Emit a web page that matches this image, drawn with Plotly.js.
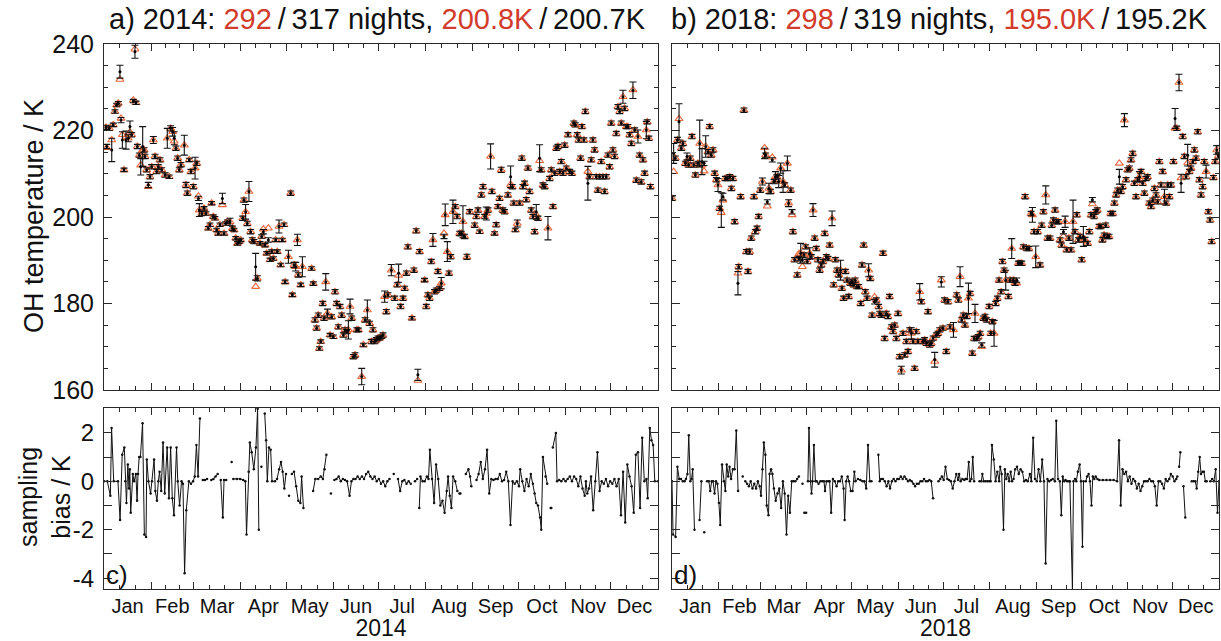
<!DOCTYPE html>
<html><head><meta charset="utf-8">
<script src="https://cdn.plot.ly/plotly-3.0.1.min.js"></script>
<style>html,body{margin:0;padding:0;background:#fff}#chart{width:1221px;height:641px}</style>
</head><body><div id="chart"></div>
<script>
// ---------------- DATA ----------------
const monthNames = ['Jan','Feb','Mar','Apr','May','Jun','Jul','Aug','Sep','Oct','Nov','Dec'];
const monthLen = [31,28,31,30,31,30,31,31,30,31,30,31];

// 2014: night (day of year), OH temperature (K), error (K), sampled value (triangles)
const day2014 = [
1.3,1.8,3.5,5.1,6.1,7.2,8.3,9.4,10.5,11.2,12.1,13.2,14.5,16.0,17.1,18.2,19.3,20.4,21.1,22.0,
23.3,24.2,25.5,26.4,27.0,28.1,29.2,30.3,31.4,32.5,33.6,34.7,35.8,36.9,38.0,40.2,41.7,43.0,43.9,45.2,
46.3,47.4,48.5,49.6,50.7,52.9,54.0,54.9,56.2,57.3,58.9,60.0,61.1,62.2,62.8,64.4,65.9,67.2,68.7,69.8,
70.9,72.0,73.1,74.2,75.3,76.4,78.0,79.1,80.2,81.3,83.0,84.6,85.7,86.8,87.9,89.0,90.0,91.4,92.2,93.3,
94.4,95.5,96.6,97.7,98.8,99.9,101.0,102.8,103.9,105.0,106.1,107.2,108.3,109.4,110.5,111.6,113.1,114.2,115.3,116.4,
117.5,118.6,119.3,121.5,123.0,124.1,125.2,126.3,127.4,128.0,129.6,130.7,136.8,137.9,139.0,140.1,141.2,141.9,142.8,144.1,
145.0,146.1,147.2,148.9,150.0,151.1,152.2,153.3,154.4,155.5,156.6,157.7,158.8,159.9,161.0,162.1,163.2,164.3,165.4,166.5,
167.6,169.8,170.9,172.0,173.5,
175.0,176.1,177.2,178.3,179.4,180.5,181.6,182.7,183.8,184.9,186.0,187.1,189.3,191.5,193.2,194.1,195.4,197.0,198.1,199.2,
200.2,202.9,204.2,205.7,206.8,207.9,211.2,212.3,213.4,214.5,215.6,216.7,217.8,218.9,220.0,221.1,222.2,224.0,224.8,226.2,
227.3,228.4,229.9,231.4,232.7,234.3,235.4,236.5,237.6,239.1,240.9,244.2,245.3,246.4,247.5,248.6,249.7,250.8,251.9,253.0,
254.7,255.6,257.3,258.4,259.5,260.6,261.7,262.8,263.9,266.1,267.9,269.0,269.9,271.0,272.3,273.8,275.3,276.0,277.1,278.2,
279.3,280.4,281.5,282.6,283.7,284.8,285.9,287.0,288.1,289.2,290.3,292.5,293.6,294.7,295.8,296.9,298.0,299.1,300.2,301.3,
302.4,303.5,304.6,305.7,306.8,308.3,309.6,310.5,311.8,312.7,314.0,314.9,316.2,317.1,318.8,319.9,321.0,322.1,323.2,324.3,
325.4,326.5,327.6,328.7,329.8,330.9,332.0,333.1,334.2,335.3,336.4,337.5,338.6,339.7,340.8,341.9,343.0,344.1,345.2,346.3,
347.4,348.5,349.6,350.7,351.8,352.9,354.0,355.1,356.2,357.3,357.9,359.0,360.0];
const temp2014 = [
220.7,216.3,220.5,215.5,221.3,224.4,225.9,226.3,233.6,222.4,217.8,210.9,217.8,218.2,220.9,219.0,226.8,238.2,226.4,216.3,
214.3,211.6,216.3,215.5,214.0,210.9,207.4,209.3,211.6,217.8,214.0,210.5,211.6,213.2,210.9,209.7,218.2,209.3,220.5,219.7,
218.2,215.9,213.6,210.9,212.1,216.6,207.4,205.5,213.2,210.5,207.0,211.3,212.4,204.3,201.6,200.8,202.0,200.8,197.4,198.2,
203.2,200.1,199.7,197.0,196.2,198.2,204.3,196.2,198.5,198.9,198.9,197.4,197.0,195.1,193.9,194.3,194.7,199.7,203.9,201.2,
198.5,205.9,196.6,194.7,194.3,188.5,185.8,193.9,195.5,196.6,193.5,191.6,194.7,190.1,192.0,190.4,194.7,192.0,197.8,188.9,
194.7,198.2,185.0,190.8,205.5,182.0,188.9,188.5,194.7,186.6,184.3,188.5,188.1,184.6,176.2,174.3,177.3,169.6,171.2,180.0,
176.6,185.0,177.7,172.7,176.9,172.3,182.7,180.0,174.6,179.3,177.3,172.7,173.9,173.5,173.9,179.3,176.6,167.7,168.1,173.9,
173.9,163.1,170.4,176.2,178.5,
175.4,171.2,173.9,171.2,171.6,172.0,172.0,172.3,172.7,181.6,178.1,182.0,187.7,181.2,184.3,187.0,179.3,181.2,183.5,187.0,
193.1,176.6,187.7,196.8,163.5,192.0,185.4,179.3,182.0,181.2,189.7,194.7,182.7,183.1,187.4,183.5,184.7,195.5,200.5,192.0,
187.0,190.8,201.2,202.4,200.1,196.2,196.2,198.9,195.5,190.8,201.2,198.1,200.1,201.6,196.6,205.1,207.0,200.1,200.8,201.6,
214.0,205.9,196.2,198.2,202.4,204.3,210.9,201.6,201.2,205.1,209.3,207.0,203.2,197.0,198.5,203.2,213.6,207.0,207.8,204.0,
211.3,205.9,201.6,200.1,196.6,201.2,199.7,213.6,210.9,207.4,207.0,197.4,208.9,210.9,202.4,210.1,215.9,216.3,210.5,212.8,
210.1,216.6,211.3,219.0,210.5,210.1,221.7,221.3,219.0,217.8,213.6,220.9,217.8,224.4,207.8,209.3,213.2,217.8,215.5,209.3,
206.2,209.3,212.8,209.3,205.9,209.3,214.3,211.6,221.7,215.5,214.0,219.3,225.5,224.4,221.7,227.8,225.1,220.9,220.9,219.0,
217.0,229.3,220.1,208.5,218.6,214.3,208.1,213.2,210.1,220.1,222.0,218.2,207.0];
const err2014 = [
.5,.5,.5,2.7,.4,.4,.4,.4,1.5,.6,1.9,.4,2.1,.8,1.3,.5,.4,1.5,.4,.5,
.5,1.9,4.6,.5,.5,.5,.6,.5,.5,.8,.5,.5,.5,.5,.5,.5,2.3,.4,.6,1.0,
1.5,.5,.5,.5,.5,2.3,.6,.5,.4,.5,.5,2.5,.5,.5,1.5,.5,.4,.4,.4,.4,
.4,.4,.4,.4,.4,.4,1.2,.4,.4,.4,.8,.5,.4,.4,.4,.4,.4,.5,.5,1.7,
.5,2.3,.5,.5,.5,3.1,.6,.4,.4,.5,.4,.4,.5,.4,.4,.4,.4,.4,1.5,.4,
.4,.4,.4,1.5,.5,.4,.6,1.0,1.3,.5,.4,2.3,.4,.4,.5,.5,.5,.4,.4,.5,
.5,1.9,1.0,.4,.5,.4,.5,.5,.5,.5,.5,.5,.5,.5,2.1,1.7,.5,.5,.5,.5,
.4,1.9,.4,.5,2.3,
.5,.5,.5,.5,.5,.5,.4,.4,.5,1.3,.5,.5,1.3,.5,.5,2.1,.5,.5,.5,.5,
.5,.4,.5,.5,1.3,.5,.4,.5,.5,.5,.5,1.5,.5,.5,.5,.5,1.3,.5,2.5,2.3,
.5,.5,2.7,.5,.5,.5,.5,3.7,.5,.6,.5,.5,.5,.5,.4,.5,.5,.5,1.5,.5,
2.9,.5,.4,.5,.5,.5,.6,.5,.5,.5,2.5,.5,.5,.4,.8,.5,.5,.5,.5,.5,
.5,.5,.5,.5,.5,1.7,.5,3.1,.5,.5,.5,2.7,.5,.5,.5,.5,.5,.5,.5,.5,
.5,.5,.5,.5,.5,.5,.5,.5,.5,.5,.5,.5,.5,.5,3.9,.5,.5,.5,.5,.5,
.5,.5,.5,.5,.5,.5,.5,.5,.5,.5,.5,.5,.5,.5,.5,1.5,.5,.5,.5,.5,
.5,1.9,.5,.5,1.5,.5,.5,.5,.5,2.0,.5,.5,.5];
const samp2014 = [
220.7,216.0,220.5,217.8,221.3,224.4,225.9,226.3,231.8,222.8,219.0,210.9,218.5,218.2,219.6,219.0,227.0,238.8,226.4,216.3,
214.3,212.0,215.5,215.5,214.0,210.9,207.0,209.3,211.6,217.8,214.0,210.5,211.6,213.2,210.9,209.7,218.2,209.3,220.5,219.7,
217.5,215.9,213.6,210.9,212.1,216.6,207.4,205.5,213.2,210.5,207.0,211.3,212.4,204.8,201.6,200.8,202.0,200.8,197.4,198.2,
203.2,200.1,199.7,197.0,196.2,198.2,202.8,196.2,198.5,198.9,198.9,197.4,197.0,195.1,193.9,194.3,194.7,199.7,203.9,201.2,
198.5,205.9,196.6,194.7,194.3,183.9,185.8,193.9,195.5,197.2,193.5,191.6,197.4,190.1,192.0,190.4,194.7,192.0,197.8,188.9,
194.7,198.2,185.0,190.8,205.5,182.0,188.9,188.5,194.7,186.6,184.3,188.5,188.1,184.6,176.2,174.3,177.3,169.6,171.2,180.0,
176.6,185.0,177.7,172.7,176.9,172.3,182.7,180.0,174.6,179.3,177.3,172.7,173.9,173.5,173.9,179.3,176.6,167.7,168.1,173.9,
173.9,163.1,170.4,176.2,178.5,
175.4,171.2,173.9,171.2,171.6,172.0,172.0,172.3,172.7,181.6,178.1,182.0,187.7,181.2,184.3,186.5,179.3,181.2,183.5,187.0,
193.1,176.6,187.7,196.8,162.2,192.0,185.4,179.3,182.0,181.2,189.7,194.7,182.7,183.1,187.4,183.5,184.7,196.2,200.5,192.0,
187.0,190.8,201.2,202.4,200.1,196.2,196.2,198.9,195.5,190.8,201.2,198.1,200.1,201.6,196.6,205.1,207.0,200.1,200.8,201.6,
214.0,205.9,196.2,198.2,202.4,204.3,210.9,201.6,201.2,205.1,207.5,207.0,203.2,197.0,198.5,203.2,213.6,207.0,207.8,204.0,
211.3,205.9,201.6,200.1,196.6,200.5,199.7,213.0,210.9,207.4,207.0,197.4,208.9,210.9,202.4,210.1,215.9,216.3,210.5,212.8,
210.1,216.6,211.3,219.0,210.5,210.1,221.7,221.3,219.0,217.8,213.6,220.9,217.8,224.4,210.5,209.3,213.2,217.8,215.5,209.3,
206.2,209.3,212.8,209.3,205.9,209.3,214.3,211.6,221.7,215.5,214.0,219.3,225.5,224.4,221.7,227.8,225.1,220.9,220.9,219.0,
217.0,229.4,220.1,208.5,218.6,214.3,208.1,213.2,210.1,220.1,222.0,218.2,207.0];

// 2018
const day2018 = [
0.0,1.1,2.2,3.6,4.7,6.2,7.3,8.9,10.0,11.1,12.2,13.3,14.5,15.6,17.3,18.5,20.0,21.4,22.5,24.0,
25.1,26.2,27.4,28.5,29.6,30.7,31.8,32.9,34.0,35.6,36.9,38.5,39.6,40.7,41.8,44.0,44.5,45.8,48.0,49.6,
50.7,51.8,52.9,54.7,55.6,56.7,57.8,58.9,60.3,61.8,62.5,63.6,64.7,65.8,66.9,68.1,69.0,70.1,71.2,72.5,
74.1,75.2,77.0,77.8,79.2,80.1,80.7,81.8,83.6,84.7,85.9,87.0,88.1,89.2,90.3,91.9,93.0,94.1,95.2,96.3,
97.4,98.5,99.6,100.8,101.9,103.0,104.1,105.2,106.8,107.9,109.0,110.1,111.2,112.5,113.4,114.5,115.7,116.8,117.9,119.0,
120.1,121.2,122.3,123.4,124.6,125.9,126.8,127.9,129.0,130.1,131.2,132.3,133.5,135.2,136.3,137.9,138.6,139.7,140.8,141.9,
143.0,144.1,145.2,146.4,147.5,148.6,149.7,150.8,151.9,153.0,154.1,155.2,156.4,157.5,158.6,159.7,160.8,161.9,163.0,164.1,
165.3,166.4,167.5,168.6,169.7,170.8,171.9,173.0,174.2,175.3,176.4,177.5,178.6,179.7,180.8,181.9,183.0,184.2,
185.5,187.8,190.0,191.1,192.2,193.3,194.4,195.5,196.7,197.8,198.9,200.4,201.6,202.2,203.3,204.4,205.6,206.7,207.8,208.9,
210.0,211.6,212.7,213.8,214.9,216.0,217.1,218.2,219.6,220.5,221.6,222.7,224.5,225.6,226.7,227.8,228.9,230.0,231.1,232.2,
233.4,234.5,235.6,236.7,238.2,239.6,240.5,241.6,242.7,244.0,245.6,246.7,247.8,249.4,250.7,252.3,253.4,254.5,255.6,256.7,
257.8,258.9,260.0,261.2,262.3,263.4,264.9,266.3,267.6,268.9,270.1,271.2,272.3,273.4,274.5,275.6,277.4,278.5,279.6,280.5,
281.6,282.7,283.8,285.0,286.1,287.2,288.3,289.4,290.5,291.6,292.7,294.1,295.2,296.3,297.4,298.5,299.6,300.7,301.9,303.0,
304.1,305.2,306.3,307.4,308.5,309.6,310.8,311.9,313.0,314.1,315.2,316.3,317.4,318.5,319.7,320.8,321.9,323.0,324.1,325.2,
326.3,327.4,328.6,329.7,330.8,331.9,333.0,334.6,335.7,336.8,338.3,339.7,340.8,341.9,343.0,344.1,345.2,346.3,347.5,348.6,
349.7,350.8,351.9,353.0,354.1,355.2,356.4,357.9,359.0,360.1,361.3,362.4,363.5,364.6];
const temp2018 = [
204.3,214.7,213.6,217.8,222.0,215.9,217.0,212.4,214.0,212.0,213.6,218.6,212.0,209.7,212.4,217.0,212.8,212.4,216.3,215.1,
220.9,214.3,215.5,210.1,208.6,207.4,202.0,201.6,204.7,208.9,208.9,209.3,206.6,208.9,198.9,184.7,188.5,204.7,224.7,192.0,
187.4,192.0,195.1,204.7,196.6,197.4,200.1,206.2,208.2,214.7,214.3,203.5,206.6,205.9,213.2,208.2,209.3,209.3,208.2,211.3,
208.2,207.4,212.4,203.2,206.2,201.2,196.6,190.1,186.6,190.4,191.6,190.1,191.2,193.1,189.7,191.6,190.8,201.6,195.1,192.7,
190.1,187.7,188.9,189.7,196.2,190.8,190.4,193.5,199.7,184.3,190.1,187.7,186.6,187.7,183.5,181.2,187.4,185.4,181.6,184.7,
185.1,184.3,185.4,183.9,183.9,180.0,188.9,193.5,182.7,181.2,187.7,185.8,177.3,180.4,180.8,179.3,177.7,177.3,191.6,171.9,
177.7,177.0,181.6,174.6,173.5,175.0,171.9,177.7,167.7,164.6,173.1,168.1,171.2,168.9,173.9,173.1,171.2,165.0,173.5,171.2,
182.7,180.4,171.2,171.6,170.8,178.1,170.4,170.8,172.0,167.0,172.7,173.1,173.9,185.0,174.3,180.8,168.9,180.4,
174.6,173.9,182.0,180.8,186.2,176.2,177.3,175.0,177.0,181.2,182.3,168.5,171.9,177.7,171.9,172.3,173.1,170.4,176.6,177.0,
176.2,179.3,173.1,175.8,173.1,180.0,181.2,185.4,182.7,189.7,187.7,185.4,181.6,185.4,192.7,185.4,184.7,185.4,189.3,189.3,
189.3,193.1,204.7,192.7,192.7,200.8,200.5,196.6,190.8,196.6,188.9,198.1,201.2,205.1,195.1,195.1,198.1,199.3,201.6,198.9,
198.9,194.7,193.5,196.6,198.9,192.4,195.1,192.4,198.9,196.6,200.5,194.7,195.5,190.1,195.5,194.8,193.9,196.6,200.5,204.0,
200.1,201.2,201.6,197.8,197.8,194.7,195.8,198.1,195.5,195.5,200.8,200.8,203.2,205.1,206.2,209.3,205.9,207.0,222.4,208.6,
210.9,211.3,213.2,214.7,207.8,204.7,208.6,209.3,210.5,207.8,205.5,208.9,209.3,203.2,202.4,203.9,206.6,205.1,203.5,212.8,
207.4,210.5,204.7,203.2,207.4,204.7,207.4,212.8,222.8,220.5,231.1,207.8,218.6,214.0,209.3,214.3,210.5,211.3,212.8,215.5,
213.6,219.7,208.6,205.1,207.0,212.8,210.5,201.2,199.3,194.3,209.1,212.8,215.5,214.1];
const err2018 = [
.5,2.3,.5,.6,4.2,.5,.5,.5,.8,.5,.5,.5,.5,.5,.5,5.4,3.0,.5,2.5,.5,
.5,.5,.5,.5,.5,1.5,.5,4.0,.8,.5,.5,.5,.5,.5,.5,2.7,.5,.5,.5,.5,
.5,.6,.5,.5,.5,.5,.5,.5,.8,1.2,.5,.5,1.2,.5,.5,.5,1.2,.5,1.4,1.2,
2.5,.5,1.7,.8,.5,.5,.5,.5,.5,.5,2.3,.5,.5,.5,.5,1.3,.5,1.5,.5,.5,
.5,.5,.5,.5,.5,.5,.5,.5,1.7,.5,.5,.5,.5,2.3,.5,.5,.5,.5,.5,.5,
.5,.5,.5,.5,.5,.5,.5,.5,.5,.5,1.5,.5,.5,.5,.5,.5,.5,.5,.5,.5,
.5,.5,.5,.5,.5,.5,.5,.5,.5,.9,.5,.5,.5,.5,.5,1.3,.5,.5,.5,.5,
1.9,.5,.5,.5,.5,.5,.5,.5,.5,1.7,.5,.5,.5,1.2,.5,.5,.5,.5,
.5,1.7,.5,.5,2.3,.5,.5,.5,.5,3.5,.5,.5,.5,2.1,.5,.5,.5,.5,.5,.5,
.5,.5,.5,.5,3.0,.5,.5,.5,.5,.5,.5,2.3,.5,.5,2.3,.5,.5,.5,.5,.5,
.5,.5,.5,.5,.5,.5,1.7,.5,2.5,.5,.5,.5,.5,2.1,.5,.5,.5,.5,.5,.5,
.5,.5,.5,.5,1.3,.5,.5,.5,5.0,.5,.5,.5,.5,.5,2.3,.5,.5,.5,.5,.5,
.5,.5,.5,.5,.5,.5,.5,.5,.5,.5,.5,.5,.5,.5,.5,1.7,.5,.5,1.5,.5,
.5,.5,.5,.5,.5,.5,.5,1.2,.5,.5,.5,.5,.5,.5,.5,.5,.5,.5,.5,.5,
.5,.5,1.7,.5,.5,.5,.5,.5,2.3,.5,1.9,2.1,.5,.5,.5,2.5,.5,.5,.5,.5,
.5,.5,.5,.5,.5,.5,1.5,.5,.5,.5,.5,.5,1.0,.5];
const samp2018 = [
204.3,210.5,213.6,217.8,222.7,215.9,217.0,212.4,213.0,212.0,213.6,218.6,212.0,209.7,212.4,217.0,212.0,210.6,216.3,215.1,
220.9,214.3,215.5,210.1,208.6,207.4,202.0,201.0,203.9,208.9,208.9,209.3,206.6,208.9,198.9,187.0,188.5,204.7,224.7,192.0,
187.4,192.0,195.1,204.7,196.6,197.4,200.1,206.2,208.2,216.0,214.3,202.5,206.6,205.9,213.8,208.2,209.3,209.3,208.2,211.3,
208.2,207.4,212.4,203.2,206.2,200.5,196.6,190.1,186.6,191.5,191.6,188.5,191.2,193.1,189.7,191.6,190.8,201.6,195.1,192.7,
190.1,187.7,188.9,189.7,196.2,190.8,190.4,193.5,199.7,184.3,190.1,187.7,186.6,187.7,183.5,181.2,187.4,185.4,181.6,184.7,
185.1,184.3,185.4,183.9,183.9,180.0,188.9,193.5,182.7,181.2,187.7,185.8,177.3,181.5,180.8,179.3,177.7,177.3,191.6,171.9,
177.7,177.0,181.6,174.6,173.5,175.0,171.9,177.7,167.7,164.6,173.1,168.1,171.2,168.9,173.9,173.1,171.2,165.0,173.5,171.2,
182.7,180.4,171.2,171.6,170.8,178.1,170.4,170.8,172.0,166.6,172.7,173.1,173.9,185.4,174.3,180.8,168.9,180.4,
174.6,173.9,182.0,180.8,186.2,176.2,177.3,175.0,177.0,181.2,182.3,168.5,171.9,177.7,171.9,172.3,173.1,170.0,176.6,177.0,
176.2,179.3,173.1,175.8,173.1,180.0,181.2,185.4,182.7,189.7,187.7,185.4,181.6,185.4,192.7,185.4,184.7,184.7,189.3,189.3,
189.3,193.1,204.7,192.7,192.7,200.8,200.5,196.6,190.8,196.6,188.9,198.1,201.2,205.1,195.1,195.1,198.1,199.3,201.6,198.9,
198.9,194.7,193.5,195.5,198.9,192.4,195.1,192.4,198.9,196.6,200.5,194.7,195.5,190.1,194.5,194.8,193.9,196.6,200.5,203.0,
200.1,201.2,201.6,197.8,197.8,194.7,195.8,198.1,195.5,195.5,200.8,200.8,203.2,205.1,206.2,212.4,205.9,207.0,222.4,208.6,
210.9,211.3,213.2,214.7,207.8,204.7,208.6,209.3,210.5,207.8,205.5,208.9,209.3,203.2,202.4,203.9,206.6,205.1,203.5,212.8,
207.4,210.5,204.7,203.2,207.4,204.7,207.4,212.8,220.5,220.5,231.1,209.0,218.6,214.0,209.3,212.5,210.5,211.3,212.8,215.5,
213.6,219.7,208.6,205.1,207.0,212.8,210.5,201.2,199.3,194.3,209.1,212.8,215.5,214.1];

// sampling bias (K), null = gap in the series
const biasDay2014 = [
0,2.2,4.2,5,6.4,9.2,10.6,12,13.4,14,14.8,15.7,16.5,17,17.6,19,19.8,21,21.8,22.4,
23.2,24,25.4,26.6,27.7,28.2,29.3,30.7,31.6,33,33.8,34.9,35.8,36.6,37.7,38.9,40,41.6,42.8,43.9,
45,46.1,47.8,48.6,49.8,51.1,52,53.1,54.2,55.9,57.3,58.7,59.8,60.9,62,63.2,64,65.1,66.5,67.9,
69,70.7,72.1,73.5,74.9,76,76.9,78.3,79.1,80.5,82,84.1,84.6,85.2,87.5,89.7,91.7,93.1,93.9,95.3,
96.1,97.3,98.7,100.1,101.2,102,103,103.7,104.5,105.9,106.8,107.6,108.7,109.8,110.7,112.6,114,115.4,116.6,117.7,
118.8,119.9,121,121.9,123,123.8,125.2,126.6,128,129.4,130.2,131.4,134,137.8,139.2,141.1,142.8,144.2,145.3,146.5,
148,149.5,150.5,151.8,153.2,154.6,156,157.4,158.8,160.2,161.8,163,164.3,165.7,167.1,168.5,169.9,171.3,172.7,174.1,
175.5,176.9,178.3,179.7,181.1,182.5,183.9,185.3,186.7,188.1,189.5,190.9,192,193.7,195.1,196.5,197.9,199.3,200.7,202.1,
203.5,204.9,206.3,207,207.7,208.5,209.9,211.3,212.7,213.8,214.7,216.1,217.5,218.8,220.2,221.6,223,224.4,225.8,226.7,
227.8,228.9,230,231.4,232.8,233.5,234.2,234.8,236,238.4,240.1,241.2,242,243.5,245.4,246.8,248.2,249.6,251,252.4,
253.8,255.2,256.6,258,259.4,260.8,262.2,263.6,265,266.4,267.8,269.2,270.6,272,273.4,274.2,275.6,277,278.4,279.8,
281.2,282.6,283.7,284.8,285.9,287.3,288.1,289.2,290.9,292,293,294.3,294.7,295,295.7,297.7,298.5,299.9,301.3,302.7,
304.1,305.5,306.9,308.3,309.7,311.1,312.5,313.9,315.3,316.7,317.5,318.4,319.5,320.9,322.3,323.7,325.1,326.5,327.9,329.3,
330.7,332.1,333.5,334.9,336.3,337.7,339.1,340.6,342,343.4,344.8,346.2,347.6,349,350.4,351.8,353.2,354.6,356,357.4,
358.2,359.6,360.7,361.8,362.9,365];
const bias2014 = [
0,0,-0.6,2.2,0,0,-1.6,1.1,1.4,0,-0.9,0.7,-0.3,0.5,-1.3,0.3,0,0.3,-0.8,0.3,
1.0,1.0,2.4,-2.2,-2.3,0.9,0,-0.5,0,0.9,-0.4,-0.8,0,0.4,-0.4,1.6,-0.5,1.4,-0.7,1.4,
-0.7,-1.4,1.4,0,-1.0,0,-0.1,-3.8,-1.2,0,-0.1,0,0.2,1.5,0.2,2.6,null,0.05,0.05,0.1,
null,0.05,0.1,0.2,0.3,null,0.05,-1.5,0.05,0.05,null,0.8,null,0.1,0.1,0.1,0.05,0,-2.2,0.4,
1.6,1.2,0.5,1.4,3.0,-2.0,null,0.6,null,2.8,1.7,0,1.4,1.3,0,0,0.1,0.5,0.8,0.4,
-0.3,0.3,null,-0.6,null,0.3,0.4,-0.2,-0.8,-0.9,0.2,-1.1,null,-0.4,0.1,0.1,0.2,0.1,0.5,1.1,
null,-0.5,null,0.05,0.1,0.2,0,0.1,0.05,0,-0.6,0,0.1,0.1,0.2,0.1,0.2,0.1,0.3,0.4,
0.2,0.1,0.2,0,0.1,-0.1,0,-0.2,0,0.1,null,0.3,null,0.1,-0.4,0,0.05,-0.1,0,-0.1,
null,0,0.1,null,-1.1,0.2,0,0,0.2,0.1,1.3,0.1,-0.9,0.7,0.1,-1.0,-0.8,-1.3,-0.4,0.2,
-0.6,-1.1,0.2,0,-0.4,null,-0.5,-0.5,null,0.3,0.5,0.2,-0.2,null,0.05,0.3,0.8,0.1,0.5,1.3,
-0.5,0.1,0.05,0.1,0.1,0.3,0,0.05,0.4,0,-1.8,0,-0.1,0,-0.2,0.5,0,-0.4,0.1,-0.2,
0.3,-0.1,-0.5,-0.9,-1.0,-1.5,-2.0,1.0,0.2,-0.1,null,-1.1,-1.1,null,1.4,2.0,0,0.05,0,0.1,
0,0.1,0.2,0,0.2,0.1,-0.2,0.2,-0.3,-0.6,0,-0.5,-0.3,0.2,-1.2,0,1.2,-0.4,0,-0.1,
0.1,-0.2,0,-0.1,0.1,-0.2,0.1,-1.4,0.4,-1.7,0.7,0.2,-0.2,-1.3,1.1,1.2,-1.1,1.8,0,0.1,
-0.7,2.2,1.7,1.5,0,0];
const biasDay2018 = [
0,0.7,2.4,3.6,4.8,6,7.2,8.4,9.3,10.3,11.2,12.2,13.1,13.8,15,16,18.4,19.6,20.5,21.5,
22.5,23.4,24.6,25.5,26.5,27.4,28.4,29.3,30.3,31.3,32.2,33.4,34.6,35.6,36.5,37.5,38.4,39.4,40.6,41.8,
42.9,44.1,45.5,47.2,48,48.9,50.1,51.3,52.5,53.7,54.9,56.1,57.3,58.5,59.4,60.4,61.3,62.3,63.2,64.4,
65.1,66.1,67,68,69.2,70.4,71.6,72.8,74,75.2,76.4,77.5,78.7,79.9,81.1,82.3,83.5,84.7,86,87.1,
87.7,88.3,89.5,90.1,90.7,91.4,92.4,93.1,93.8,94.7,95.7,96.6,97.8,99,100.2,101.4,102.1,103.1,104.3,105.2,
106.2,107.4,108.6,109.8,110.9,112.1,113.3,114.5,115.2,116.2,117.2,118.1,119.3,120.5,121.7,122.4,124.1,125.7,127.2,128.4,
129.6,130.8,132,133.1,135,137.7,138.6,139.6,140.8,142,143.2,144.4,145.5,146.7,147.9,149.1,150.3,151.5,152.7,153.9,
155.1,156.3,157.5,158.7,159.9,161.1,162.2,163.4,164.6,165.8,167,168.2,169.4,170.6,171.8,173,174.2,176,177.8,179,
180.1,181.3,182.5,183.7,184.9,186.1,187.3,188.5,189.7,190.9,191.6,192.6,193.8,195,195.9,196.9,198,198.8,199.8,200.7,
201.6,203,205.2,206.4,207.1,208,209.2,210.4,211.6,212.6,213.5,214.7,215.9,217.1,218.3,219,220,221.2,222.1,223.1,
224,225,226,226.9,227.9,229,230.2,231.4,232.6,233.8,235,236.2,237.4,238.8,239.8,241,242.2,243.4,244.6,245.8,
247,248.2,249.3,250.5,251.7,252.9,254.1,255.5,256.4,257.6,258.8,259.8,260.7,261.7,262.6,263.6,264.8,265.5,267.2,267.9,
268.9,269.8,270.8,272,272.9,273.9,274.6,275.3,276.1,277,278,278.9,279.9,280.8,281.8,282.7,283.9,285.1,287.5,289.9,
292.3,294.7,297,298.3,299.4,300.6,301.8,303,304.2,305.4,306.6,307.8,309,310.2,311.4,312.6,313.8,315,316.2,317.4,
318.6,319.8,321,322.2,323.4,324.6,325.8,327,328.2,329.4,330.6,331.8,332.9,334.1,335.3,336.5,337.2,337.8,338.4,339.2,
340,341.3,342.5,344,346.8,348,349.2,350.1,351.1,352.1,353,354,354.9,355.9,356.8,358,359.2,360.4,361.6,362.8,
364,365];
const bias2018 = [
0,-2.2,-2.3,0.6,0.1,0.1,0,0,0.1,0.3,1.9,0,0.1,0.5,-2.0,null,-1.6,0,null,-2.1,
null,0,0,-0.4,0,0,-0.5,0,-0.1,-0.9,-1.8,0.7,0,-0.4,0.7,0.2,0.6,0.1,0.5,0.5,
2.1,-0.4,null,0.2,null,0,-0.1,-0.2,0,-0.3,-0.1,-0.3,0,-0.2,-0.6,0.5,1.6,1.1,-1.0,-1.4,
0.3,0.5,0.3,-0.3,-0.8,-0.5,-0.3,-1.1,0,-0.5,-2.2,-0.6,-1.3,0,0,0,0.1,0.2,null,-0.1,
null,-1.3,-1.3,null,0,2.2,0,-0.5,0,1.5,0,0,-0.1,0,0,0,-0.4,0,0,0,
-1.3,0.1,0,-0.2,0,0,0.2,-0.3,-1.6,0,0.2,0,-0.4,-0.4,0.4,0,0.1,0.05,0,0,
-0.3,1.5,0,0,null,1.1,0,0.1,0.1,0,-0.2,0,-0.3,0,0.1,0,0.1,0.1,0.2,0.1,
0.2,0.1,0,0.05,0,-0.1,-0.2,-0.1,-0.1,0,0,0.1,0,0,0.05,0,-0.7,null,0,0.1,
0.2,0.05,0.6,0.1,0.05,0,-0.3,0,0.3,0.05,0.3,0,0.1,0.05,0.1,0.1,0.8,0,0.1,1.0,
0,null,0,0,0.3,0,0,0,0,0,1.5,0.9,0,0.4,0,0.6,0.3,-2.0,0.5,0.1,
0.3,0,0.4,0,0.1,0.5,0.6,0.3,0.5,0.4,0,0.05,0,0.3,0,1.8,0.1,0,0.5,0,
0.9,0,-3.4,0.1,0,0.05,0.1,0,2.5,0.1,0,-1.4,0.2,0,0.05,0,0,0,-4.5,0,
0.1,0,0.4,0.7,0,-2.7,0,null,0,0.2,0.3,0,-1.0,0.2,0.1,0.2,0.1,0.05,0.05,0.05,
0.05,0.05,0,1.7,-1.0,0.5,0.3,0.4,0,0.2,-0.1,0.1,0,-0.3,-0.1,-0.4,-0.2,0,0,0,
0.1,0,0,-0.2,-1.0,0,0,-0.1,-0.3,0.1,0,0.1,0.3,0.2,0,0.1,0.2,null,0.6,1.2,
null,-0.2,-1.5,null,0,0,0,-0.3,0.4,1.0,0.3,0.4,0.4,0,0,null,0,0.1,0,0.5,
-1.3,0];

const titleA = ['a) 2014: ', '292', '/317 nights, ', '200.8K', '/200.7K'];
const titleB = ['b) 2018: ', '298', '/319 nights, ', '195.0K', '/195.2K'];

// ---------------- STYLE / LAYOUT ----------------
const FONT = 'Liberation Sans, Arial, Helvetica, sans-serif';
const INK = '#2a2a2a';
const RED = '#d23c2c';
const ORANGE = '#e8693d';
const W = 1221, H = 641;
const px = v => v / W, py = v => 1 - v / H;

const bounds = [0]; monthLen.forEach(l => bounds.push(bounds[bounds.length-1] + l));
const mids = monthLen.map((l,i) => bounds[i] + l/2);
const thirds = []; monthLen.forEach((l,i) => { thirds.push(bounds[i] + l/3, bounds[i] + 2*l/3); });

const XL = [px(104), px(658)], XR = [px(672), px(1219)];
const YT = [py(390), py(44)], YB = [py(589), py(408)];

function xBase(dom, anchor){
  return {domain: dom, anchor: anchor, range: [0,365], showline: true, linecolor: INK, linewidth: 1,
    mirror: 'allticks', ticks: 'inside', tickvals: bounds, ticklen: 7, tickcolor: INK, tickwidth: 1,
    showticklabels: false, showgrid: false, zeroline: false,
    minor: {tickvals: thirds, ticks: 'inside', ticklen: 4, tickcolor: INK, tickwidth: 1, showgrid: false}};
}
function xLabels(over, anchor, yr){
  return {overlaying: over, anchor: anchor, range: [0,365], tickvals: mids, ticktext: monthNames, ticks: '',
    showline: false, showgrid: false, zeroline: false, ticklabelstandoff: 3,
    tickfont: {family: FONT, size: 20, color: '#111'},
    title: {text: yr, font: {family: FONT, size: 23, color: '#111'}, standoff: 0}};
}
function yTop(dom, anchor, labels){
  return {domain: dom, anchor: anchor, range: [160,240], tickvals: [160,180,200,220,240],
    ticks: 'inside', ticklen: 8, tickcolor: INK, mirror: 'allticks', showline: true, linecolor: INK, linewidth: 1,
    showgrid: false, zeroline: false, showticklabels: labels, ticklabelstandoff: 4,
    tickfont: {family: FONT, size: 25, color: '#111'},
    minor: {tickvals: [165,170,175,185,190,195,205,210,215,225,230,235], ticks: 'inside', ticklen: 4, tickcolor: INK}};
}
function yBot(dom, anchor, labels){
  return {domain: dom, anchor: anchor, range: [-4.45,3.03], tickvals: [-4,-2,0,2], ticktext: ['-4','-2','0','2'],
    ticks: 'inside', ticklen: 8, tickcolor: INK, mirror: 'allticks', showline: true, linecolor: INK, linewidth: 1,
    showgrid: false, zeroline: false, showticklabels: labels, ticklabelstandoff: 4,
    tickfont: {family: FONT, size: 24, color: '#111'},
    minor: {tickvals: [-3,-1,1,3], ticks: 'inside', ticklen: 5, tickcolor: INK}};
}

function tempTraces(d, t, e, s, xa, ya){
  return [
    {type:'scatter', mode:'markers', x:d, y:s, xaxis:xa, yaxis:ya, hoverinfo:'skip', showlegend:false,
     marker:{symbol:'triangle-up-open', size:7, color:ORANGE, line:{width:1.1, color:ORANGE}}},
    {type:'scatter', mode:'markers', x:d, y:t, xaxis:xa, yaxis:ya, hoverinfo:'skip', showlegend:false,
     marker:{symbol:'circle', size:3, color:'#000'},
     error_y:{type:'data', array:e, visible:true, color:'#111', thickness:1.1, width:3.5}}
  ];
}
function biasTrace(d, b, xa, ya){
  return {type:'scatter', mode:'lines+markers', x:d, y:b, xaxis:xa, yaxis:ya, connectgaps:false,
    hoverinfo:'skip', showlegend:false, line:{color:'#111', width:1}, marker:{size:2.5, color:'#111'}};
}

const data = [
  ...tempTraces(day2014, temp2014, err2014, samp2014, 'x', 'y'),
  ...tempTraces(day2018, temp2018, err2018, samp2018, 'x2', 'y2'),
  biasTrace(biasDay2014, bias2014, 'x3', 'y3'),
  biasTrace(biasDay2018, bias2018, 'x4', 'y4'),
  {type:'scatter', x:[], y:[], xaxis:'x5', yaxis:'y3', showlegend:false, hoverinfo:'skip'},
  {type:'scatter', x:[], y:[], xaxis:'x6', yaxis:'y4', showlegend:false, hoverinfo:'skip'}
];

function titleHTML(p){
  return p[0] + '<span style="color:' + RED + '">' + p[1] + '</span>' + p[2].replace('/', '\u2009/\u2009')
    + '<span style="color:' + RED + '">' + p[3] + '</span>' + p[4].replace('/', '\u2009/\u2009');
}

const layout = {
  width: W, height: H, margin: {l:0, r:0, t:0, b:0}, paper_bgcolor: '#fff', plot_bgcolor: '#fff',
  font: {family: FONT, color: '#111'}, showlegend: false,
  xaxis: xBase(XL, 'y'), yaxis: yTop(YT, 'x', true),
  xaxis2: xBase(XR, 'y2'), yaxis2: yTop(YT, 'x2', false),
  xaxis3: xBase(XL, 'y3'), yaxis3: yBot(YB, 'x3', true),
  xaxis4: xBase(XR, 'y4'), yaxis4: yBot(YB, 'x4', false),
  xaxis5: xLabels('x3', 'y3', '2014'),
  xaxis6: xLabels('x4', 'y4', '2018'),
  annotations: [
    {xref:'paper', yref:'paper', x:px(377), y:py(19), text:titleHTML(titleA), showarrow:false,
     xanchor:'center', yanchor:'middle', font:{family:FONT, size:29, color:'#111'}},
    {xref:'paper', yref:'paper', x:px(939), y:py(19), text:titleHTML(titleB), showarrow:false,
     xanchor:'center', yanchor:'middle', font:{family:FONT, size:29, color:'#111'}},
    {xref:'paper', yref:'paper', x:px(34), y:py(216), text:'OH temperature / K', textangle:-90, showarrow:false,
     xanchor:'center', yanchor:'middle', font:{family:FONT, size:27, color:'#111'}},
    {xref:'paper', yref:'paper', x:px(44), y:py(497), text:'sampling<br>bias / K', textangle:-90, showarrow:false,
     xanchor:'center', yanchor:'middle', font:{family:FONT, size:25, color:'#111'}},
    {xref:'paper', yref:'paper', x:px(104), y:py(575), text:'c)', showarrow:false,
     xanchor:'left', yanchor:'middle', font:{family:FONT, size:26, color:'#111'}},
    {xref:'paper', yref:'paper', x:px(672), y:py(575), text:'d)', showarrow:false,
     xanchor:'left', yanchor:'middle', font:{family:FONT, size:26, color:'#111'}}
  ]
};

Plotly.newPlot('chart', data, layout, {staticPlot: true, displayModeBar: false});
</script>
</body></html>
